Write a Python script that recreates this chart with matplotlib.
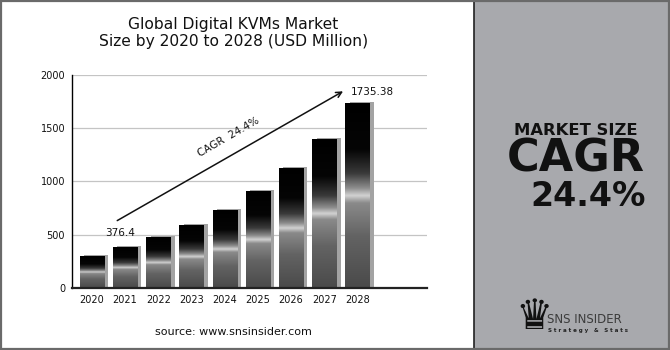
import matplotlib.pyplot as plt
import numpy as np
from matplotlib.colors import LinearSegmentedColormap
from matplotlib.patches import Rectangle

# data
years = ['2020', '2021', '2022', '2023', '2024', '2025', '2026', '2027', '2028']
market_size = [296.0, 376.4, 476.0, 589.0, 730.0, 904.0, 1124.0, 1396.0, 1735.38]
cagr_label = 'CAGR  24.4%'
first_label = '376.4'
last_label = '1735.38'

plt.rcParams['font.family'] = ['DejaVu Sans']

fig = plt.figure(figsize=(6.7, 3.5), dpi=100)
fig.patch.set_facecolor('white')

# right grey panel
fig.patches.append(Rectangle((0.7075, 0), 0.2925, 1, transform=fig.transFigure,
                             facecolor='#a8a9ad', edgecolor='none', zorder=0))
fig.lines.append(plt.Line2D([0.7075, 0.7075], [0, 1], transform=fig.transFigure,
                            color='#222222', lw=1.2))
# outer frame
fig.patches.append(Rectangle((0.002, 0.003), 0.996, 0.994, transform=fig.transFigure,
                             facecolor='none', edgecolor='#6a6a6a', lw=1.6, zorder=5))

ax = fig.add_axes([0.1075, 0.177, 0.53, 0.609])

# vertical gradient for the bars (top -> bottom)
stops = [(0.0, '#000000'), (0.25, '#050505'), (0.38, '#3a3a3a'), (0.46, '#8e8e8e'),
         (0.50, '#d2d2d2'), (0.54, '#8a8a8a'), (0.72, '#636363'), (1.0, '#4a4a4a')]
cmap = LinearSegmentedColormap.from_list('barfade', stops)
grad = np.linspace(0, 1, 256).reshape(-1, 1)

x = np.arange(len(years))
w = 0.725
# grey side / shadow
ax.bar(x + 0.13, np.array(market_size) + 15, width=w, color='#a3a3a3', zorder=2)
fronts = ax.bar(x, market_size, width=w, color='none', zorder=3)
for b in fronts:
    x0, y1 = b.get_x(), b.get_height()
    ax.imshow(grad, cmap=cmap, aspect='auto', zorder=3,
              extent=(x0, x0 + b.get_width(), 0, y1), interpolation='bilinear')

ax.set_xlim(-0.6, 10.1)
ax.set_ylim(0, 2000)
ax.set_yticks([0, 500, 1000, 1500, 2000])
ax.set_xticks(x)
ax.set_xticklabels(years)
ax.tick_params(axis='both', length=0, labelsize=7, colors='#111111')
ax.tick_params(axis='y', pad=5)
ax.tick_params(axis='x', pad=5)
ax.yaxis.grid(True, color='#c4c4c4', lw=0.9)
ax.set_axisbelow(True)
for s in ['top', 'right']:
    ax.spines[s].set_visible(False)
ax.spines['left'].set_color('#000000')
ax.spines['left'].set_linewidth(1.0)
ax.spines['bottom'].set_color('#222222')
ax.spines['bottom'].set_linewidth(1.6)
ax.spines['bottom'].set_zorder(4)

# CAGR arrow and labels
ax.annotate('', xy=(7.64, 1859), xytext=(0.69, 620),
            arrowprops=dict(arrowstyle='->', lw=1.1, color='#111111'), zorder=5)
ax.text(4.1, 1418, cagr_label, rotation=30, ha='center', va='center',
        rotation_mode='anchor', fontsize=7.5, color='#111111')
ax.text(0.85, 516, first_label, ha='center', va='center', fontsize=7.5, color='#111111')
ax.text(7.79, 1840, last_label, ha='left', va='center', fontsize=7.5, color='#111111')

# title and source
fig.text(0.348, 0.906, 'Global Digital KVMs Market\nSize by 2020 to 2028 (USD Million)',
         ha='center', va='center', fontsize=11.2, color='#111111', linespacing=1.2)
fig.text(0.349, 0.052, 'source: www.snsinsider.com', ha='center', va='center',
         fontsize=8, color='#111111')

# right panel text
fig.text(0.951, 0.614, 'MARKET SIZE', ha='right', va='baseline', fontsize=11.8,
         fontweight='bold', color='#111111')
fig.text(0.962, 0.509, 'CAGR', ha='right', va='baseline', fontsize=32,
         fontweight='bold', color='#111111')
fig.text(0.964, 0.411, '24.4%', ha='right', va='baseline', fontsize=24,
         fontweight='bold', color='#111111')

# logo
fig.text(0.797, 0.095, '\u265b', ha='center', va='center', fontsize=30,
         color='#111111')
fig.text(0.816, 0.088, 'SNS INSIDER', ha='left', va='center', fontsize=8.5,
         color='#3c3c3c')
fig.text(0.818, 0.056, 'S t r a t e g y   &   S t a t s', ha='left', va='center',
         fontsize=4, fontweight='bold', color='#222222')

fig.savefig('out.png', dpi=100)
